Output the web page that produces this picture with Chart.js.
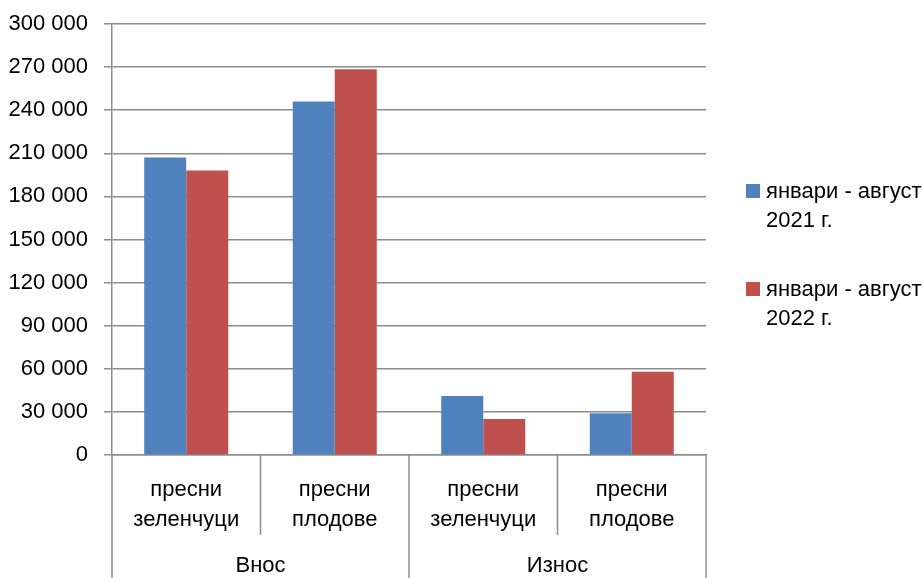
<!DOCTYPE html>
<html>
<head>
<meta charset="utf-8">
<script src="https://cdn.jsdelivr.net/npm/chart.js@4"></script>
<style>
  html, body { margin: 0; padding: 0; background: #fff; }
  #wrap { position: relative; width: 923px; height: 578px; }
  #legend { position: absolute; left: 746px; top: 0; font-family: 'Liberation Sans', Arial, sans-serif; font-size: 22px; color: #000; }
  .item { position: absolute; left: 0; white-space: nowrap; line-height: 29px; }
  .swatch { position: absolute; left: 0; top: 8px; width: 14px; height: 14px; }
  .txt { position: absolute; left: 20px; top: 0; }
</style>
</head>
<body>
<div id="wrap">
  <canvas id="chart" width="923" height="578"></canvas>
  <div id="legend"></div>
</div>
<script>
// --- Data ---
const categories = [['пресни', 'зеленчуци'], ['пресни', 'плодове'], ['пресни', 'зеленчуци'], ['пресни', 'плодове']];
const groups = ['Внос', 'Износ'];
const groupSize = 2;
const seriesNames = [['январи - август', '2021 г.'], ['январи - август', '2022 г.']];
const values2021 = [207000, 246000, 41000, 29000];
const values2022 = [198000, 268500, 25000, 58000];
const yTicks = [0, 30000, 60000, 90000, 120000, 150000, 180000, 210000, 240000, 270000, 300000];
const colors = ['#4F81BD', '#C0504D'];

const axisGray = '#8c8c8c';
const font = { family: "'Liberation Sans', Arial, sans-serif", size: 22 };

// --- Two-level x axis separators and group labels ---
const groupAxis = {
    id: 'groupAxis',
    afterDraw(chart) {
        const ctx = chart.ctx;
        const x = chart.scales.x;
        const bottom = chart.chartArea.bottom;
        const half = (x.getPixelForValue(1) - x.getPixelForValue(0)) / 2;
        ctx.save();
        ctx.strokeStyle = axisGray;
        ctx.lineWidth = 1.5;
        for (let i = 0; i <= categories.length; i++) {
            const px = i < categories.length ? x.getPixelForValue(i) - half : x.getPixelForValue(i - 1) + half;
            const end = (i % groupSize === 0) ? chart.height : bottom + 80;
            ctx.beginPath();
            ctx.moveTo(px, bottom);
            ctx.lineTo(px, end);
            ctx.stroke();
        }
        ctx.fillStyle = '#000';
        ctx.font = font.size + 'px ' + font.family;
        ctx.textAlign = 'center';
        ctx.textBaseline = 'middle';
        groups.forEach((g, gi) => {
            const a = x.getPixelForValue(gi * groupSize) - half;
            const b = x.getPixelForValue(gi * groupSize + groupSize - 1) + half;
            ctx.fillText(g, (a + b) / 2, 566);
        });
        ctx.restore();
    }
};

const ctx = document.getElementById('chart').getContext('2d');
new Chart(ctx, {
    type: 'bar',
    data: {
        labels: categories,
        datasets: [
            { label: seriesNames[0].join(' '), data: values2021, backgroundColor: colors[0] },
            { label: seriesNames[1].join(' '), data: values2022, backgroundColor: colors[1] }
        ]
    },
    options: {
        responsive: false,
        animation: false,
        layout: { padding: { top: 24, right: 217, left: 0, bottom: 0 } },
        datasets: { bar: { categoryPercentage: 0.566, barPercentage: 1.0 } },
        scales: {
            x: {
                grid: { display: false, drawTicks: false },
                border: { display: true, color: axisGray, width: 1.5 },
                ticks: { color: '#000', font: { ...font, lineHeight: 1.35 }, padding: 20, maxRotation: 0 },
                afterFit: (s) => { s.height = 123; }
            },
            y: {
                min: 0,
                max: 300000,
                afterBuildTicks: (s) => { s.ticks = yTicks.map(v => ({ value: v })); },
                grid: { color: axisGray, lineWidth: 1.5, tickLength: 8 },
                border: { display: true, color: axisGray, width: 1.5 },
                ticks: {
                    color: '#000',
                    font: font,
                    padding: 16,
                    callback: (v) => v.toString().replace(/\B(?=(\d{3})+(?!\d))/g, ' ')
                },
                afterFit: (s) => { s.width = 112; s.paddingTop = 0; s.paddingBottom = 0; }
            }
        },
        plugins: {
            legend: { display: false },
            tooltip: { enabled: false }
        }
    },
    plugins: [groupAxis]
});

// --- Legend ---
const legend = document.getElementById('legend');
const legendTops = [176, 274];
seriesNames.forEach((lines, i) => {
    const item = document.createElement('div');
    item.className = 'item';
    item.style.top = legendTops[i] + 'px';
    item.innerHTML = '<span class="swatch" style="background:' + colors[i] + '"></span>' +
        '<span class="txt">' + lines.join('<br>') + '</span>';
    legend.appendChild(item);
});
</script>
</body>
</html>
